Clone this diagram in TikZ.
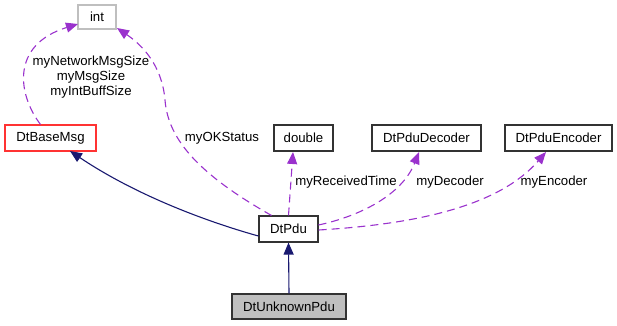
\documentclass[tikz,border=0pt]{standalone}
\usepackage{fontspec}
\setmainfont{Liberation Sans}
\usetikzlibrary{arrows.meta}
\definecolor{edgeblue}{HTML}{191970}
\definecolor{edgepurple}{HTML}{9A32CD}
\definecolor{boxred}{HTML}{FF3333}
\definecolor{boxgray}{HTML}{BFBFBF}
\begin{document}
\begin{tikzpicture}[x=1pt,y=-1pt,
  font=\fontsize{13.2}{15}\selectfont,
  cls/.style={draw=black!80, line width=1.1pt, minimum height=26pt, inner sep=0pt, fill=white},
  inherit/.style={draw=edgeblue, line width=1.1pt, -{Triangle[length=12pt,width=10pt]}},
  uses/.style={draw=edgepurple, line width=1.1pt, dash pattern=on 8pt off 5pt, -{Triangle[length=12pt,width=10pt]}},
  lbl/.style={inner sep=0pt, align=center}]
\useasboundingbox (0,0) rectangle (617,325);
\node[cls, draw=boxgray, minimum width=38pt, minimum height=24pt] (int) at (97,17) {int};
\node[cls, draw=boxred, minimum width=91pt] (base) at (50.5,138) {DtBaseMsg};
\node[cls, minimum width=59pt] (double) at (303.5,138) {double};
\node[cls, minimum width=109pt] (dec) at (426.5,138) {DtPduDecoder};
\node[cls, minimum width=107pt] (enc) at (558.5,138) {DtPduEncoder};
\node[cls, minimum width=59pt] (pdu) at (288.5,229) {DtPdu};
\node[cls, fill=boxgray, minimum width=114pt, minimum height=25pt] (unk) at (289,306.5) {DtUnknownPdu};

\draw[inherit] (unk.north) -- (pdu.south);
\draw[inherit] (pdu.west) ++(0,7) .. controls (215,224) and (140,198) .. (70,151);
\draw[uses] (base.north) ++(-10,0) .. controls (18,95) and (10,45) .. (78,24);
\draw[uses] (pdu.north) ++(-17,0) .. controls (200,175) and (168,140) .. (165,100)
  .. controls (162,65) and (142,45) .. (117,28);
\draw[uses] (pdu.north) -- (293,152);
\draw[uses] (pdu.east) ++(0,-4) .. controls (360,216) and (402,195) .. (419,152);
\draw[uses] (pdu.east) ++(0,1) .. controls (420,224) and (500,205) .. (546,152);

\node[lbl] (l1) at (91,77) {myNetworkMsgSize\\myMsgSize\\myIntBuffSize};
\node[lbl] (l2) at (222,138) {myOKStatus};
\node[lbl] (l3) at (346,182) {myReceivedTime};
\node[lbl] (l4) at (450,182) {myDecoder};
\node[lbl] (l5) at (554,182) {myEncoder};
\end{tikzpicture}
\end{document}
